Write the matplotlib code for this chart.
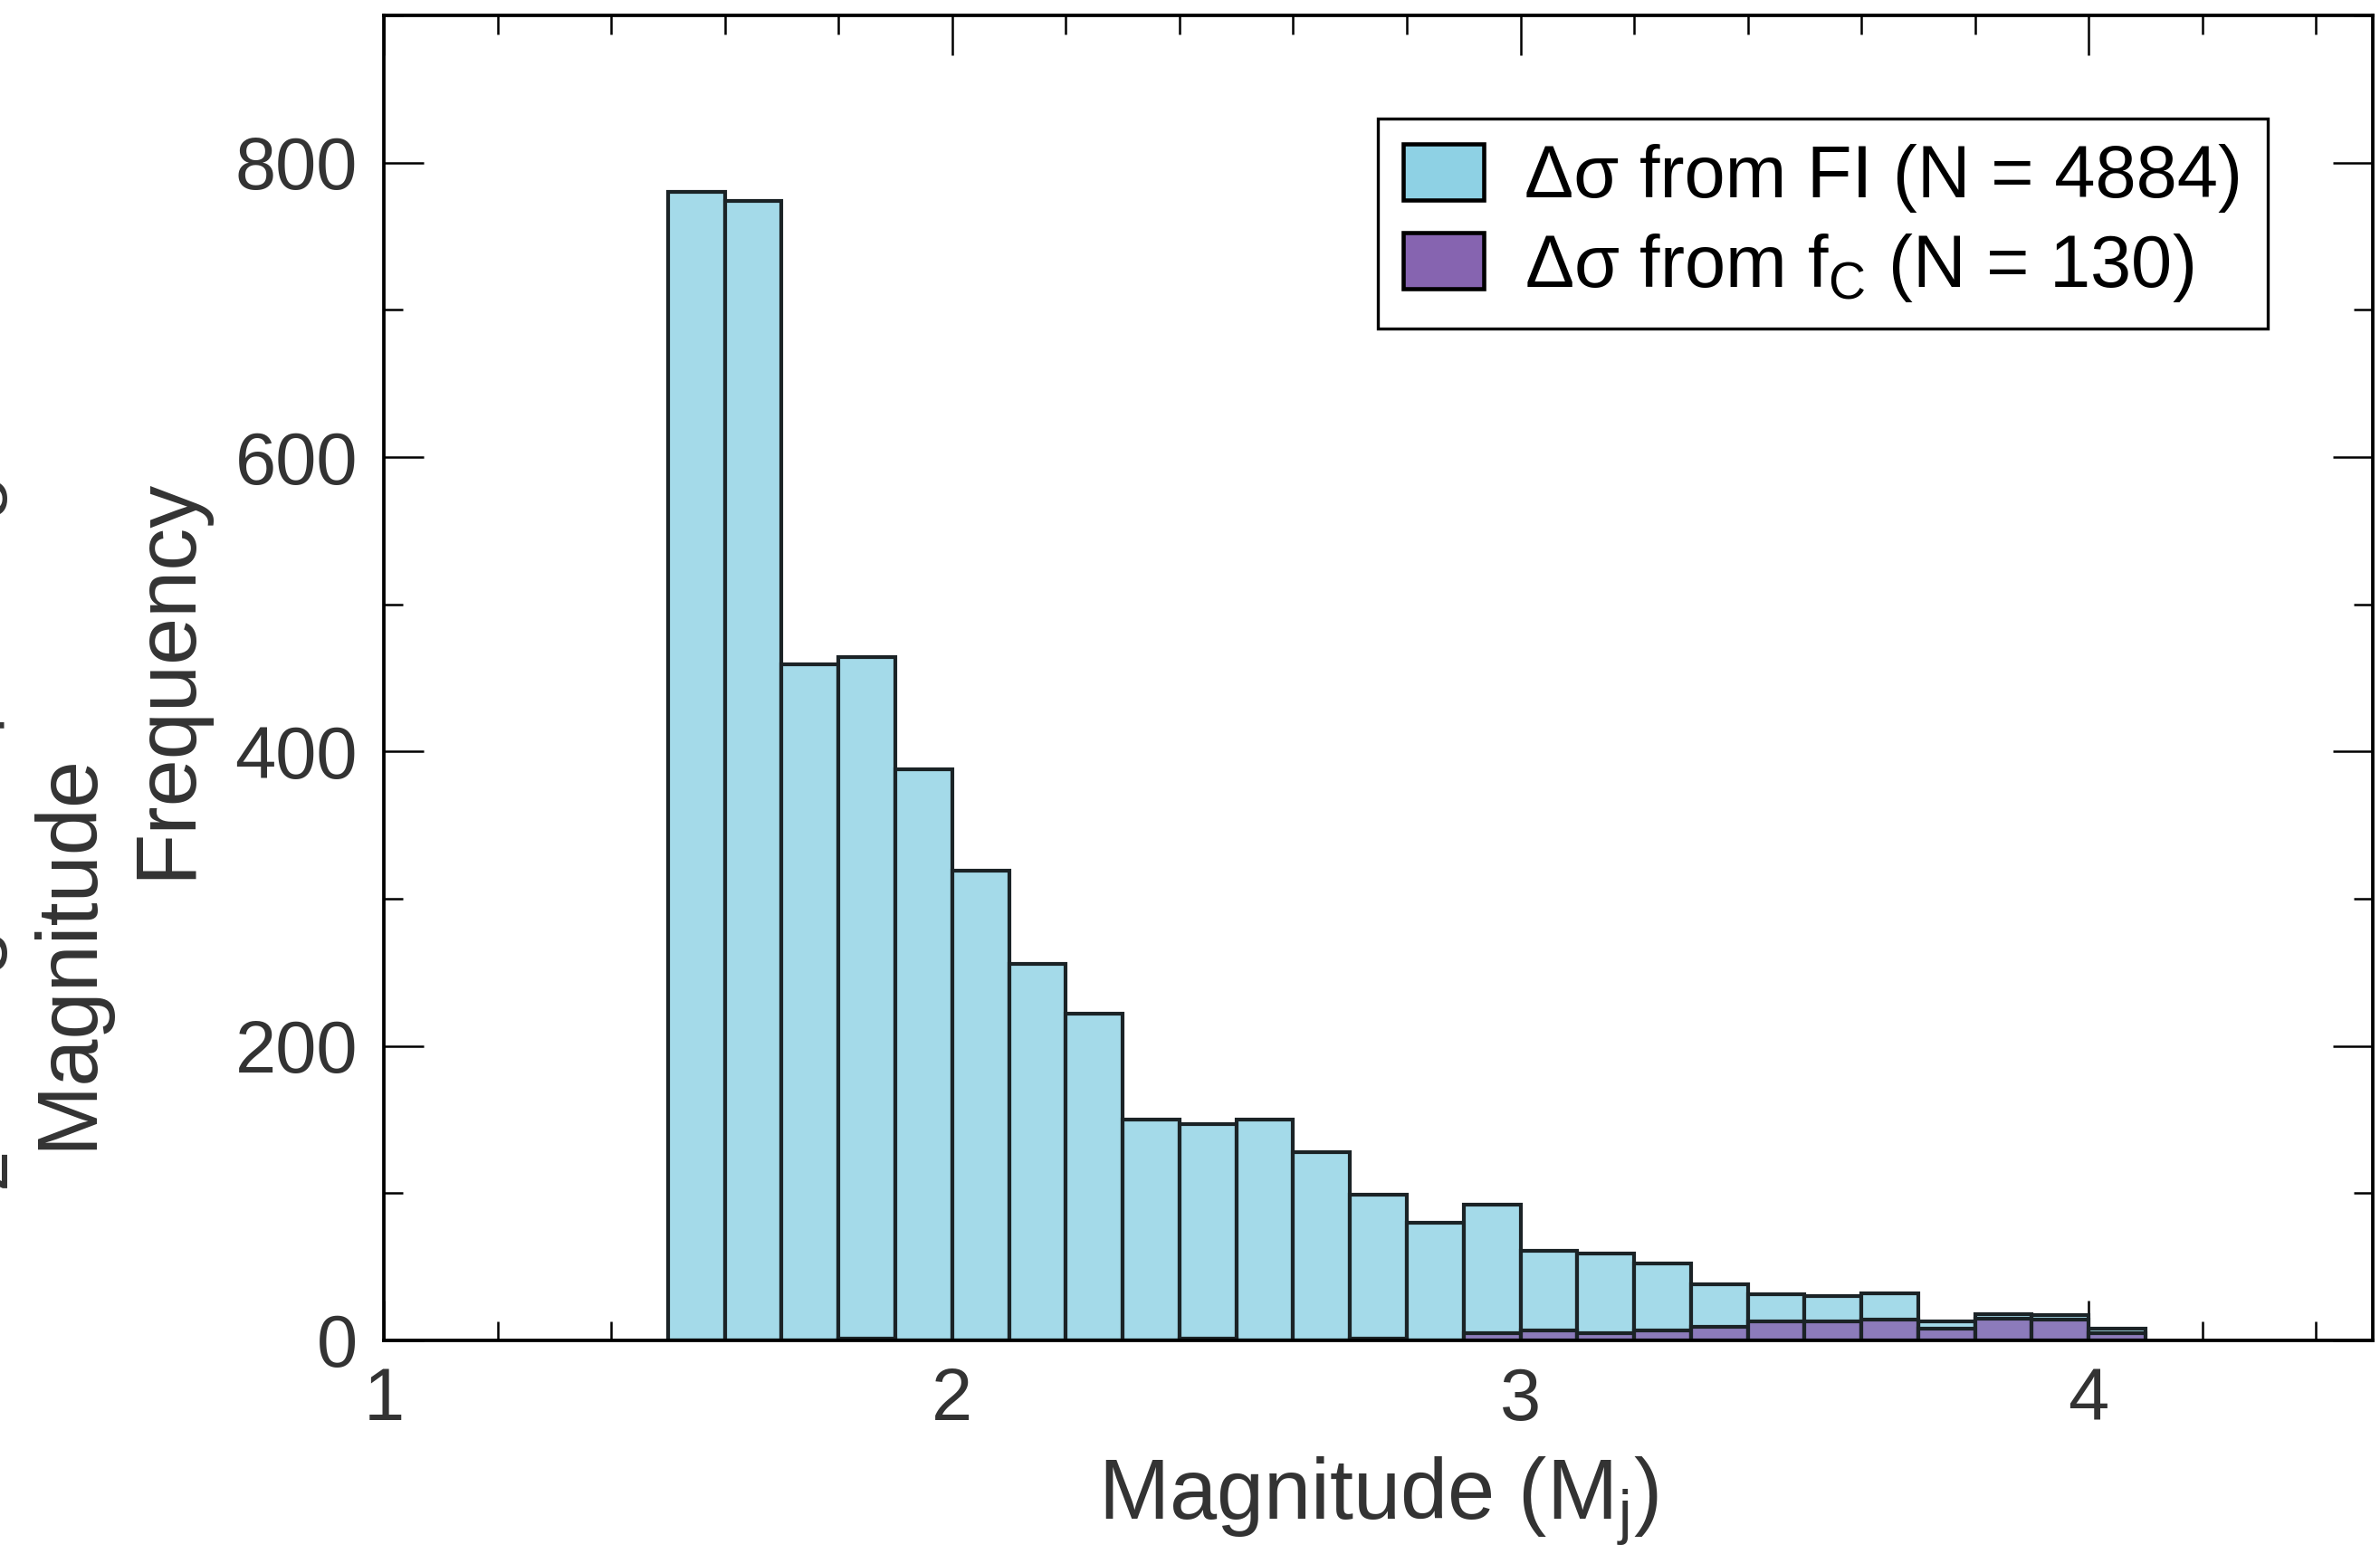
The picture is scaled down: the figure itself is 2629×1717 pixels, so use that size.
import matplotlib
matplotlib.use("Agg")
import matplotlib.pyplot as plt
from matplotlib.patches import Patch
from matplotlib.ticker import MultipleLocator

plt.rcParams['font.family'] = ['Liberation Sans', 'DejaVu Sans']
plt.rcParams['mathtext.fontset'] = 'custom'
plt.rcParams['mathtext.rm'] = 'Liberation Sans'

# ---- data ----
bin_left = [1.5, 1.6, 1.7, 1.8, 1.9, 2.0, 2.1, 2.2, 2.3, 2.4, 2.5, 2.6, 2.7,
            2.8, 2.9, 3.0, 3.1, 3.2, 3.3, 3.4, 3.5, 3.6, 3.7, 3.8, 3.9, 4.0]
bin_width = 0.1
counts_fi = [780, 774, 459, 464, 388, 319, 256, 222, 150, 147, 150, 128, 99,
             80, 92, 61, 59, 52, 38, 31, 30, 32, 13, 18, 17, 8]
counts_fc = [0, 0, 0, 1, 0, 0, 0, 0, 0, 1, 0, 0, 1,
             0, 5, 7, 5, 7, 9, 13, 13, 14, 8, 15, 14, 5]
label_fi = 'Δσ from FI (N = 4884)'
label_fc = 'Δσ from f$_\\mathregular{C}$ (N = 130)'
x_ticks = [1, 2, 3, 4]
y_ticks = [0, 200, 400, 600, 800]
side_ticks = ['5', '4', '3', '2']

blue = '#8ED1E4'
purple = '#8664B0'
edge = '#1b2326'
txt = '#333333'

fig = plt.figure(figsize=(2629 / 300, 1717 / 300), dpi=300)
ax = fig.add_axes([0.1613, 0.1375, 0.997 - 0.1613, 0.990 - 0.1375])

ax.bar(bin_left, counts_fi, width=bin_width, align='edge',
       facecolor=matplotlib.colors.to_rgba(blue, 0.8), edgecolor=edge,
       linewidth=1.0, zorder=2)
ax.bar(bin_left, counts_fc, width=bin_width, align='edge',
       facecolor=matplotlib.colors.to_rgba(purple, 0.8), edgecolor=edge,
       linewidth=1.0, zorder=3)

ax.set_xlim(1, 4.5)
ax.set_ylim(0, 900)
ax.set_xticks(x_ticks)
ax.set_xticklabels([str(v) for v in x_ticks])
ax.set_yticks(y_ticks)
ax.set_yticklabels([str(v) for v in y_ticks])
ax.xaxis.set_minor_locator(MultipleLocator(0.2))
ax.yaxis.set_minor_locator(MultipleLocator(100))
ax.tick_params(which='both', direction='in', top=True, right=True,
               width=0.6, color='black', labelcolor=txt, labelsize=19.5)
ax.tick_params(which='major', length=10.5, pad=7)
ax.tick_params(which='minor', length=5)
for s in ax.spines.values():
    s.set_linewidth(0.9)
    s.set_color('black')
    s.set_zorder(5)

fig.text(0.0702, 0.5638, 'Frequency', rotation=90, ha='center', va='center',
         fontsize=22.5, color=txt)
fig.text(0.579, 0.034, 'Magnitude (M$_\\mathregular{j}$)', ha='center',
         va='center', fontsize=22.5, color=txt)

# partially visible neighbouring panel on the far left
fig.text(0.0287, 0.388, 'Magnitude', rotation=90, ha='center', va='center',
         fontsize=22.5, color=txt)
for lab, yy in zip(side_ticks, [0.682, 0.529, 0.389, 0.249]):
    fig.text(0.0082, yy, lab, rotation=90, ha='right', va='center',
             fontsize=19.5, color=txt)

handles = [Patch(facecolor=blue, edgecolor='black', linewidth=1.1, label=label_fi),
           Patch(facecolor=purple, edgecolor='black', linewidth=1.1, label=label_fc)]
leg = ax.legend(handles=handles, loc='upper right', bbox_to_anchor=(0.947, 0.922),
                fontsize=19.5, frameon=True, fancybox=False, framealpha=1,
                edgecolor='black', handlelength=1.1, handleheight=0.8,
                handletextpad=0.55, borderpad=0.34, labelspacing=0.25,
                borderaxespad=0)
leg.get_frame().set_linewidth(0.8)
leg.set_zorder(6)

fig.savefig('out.png', dpi=300)
